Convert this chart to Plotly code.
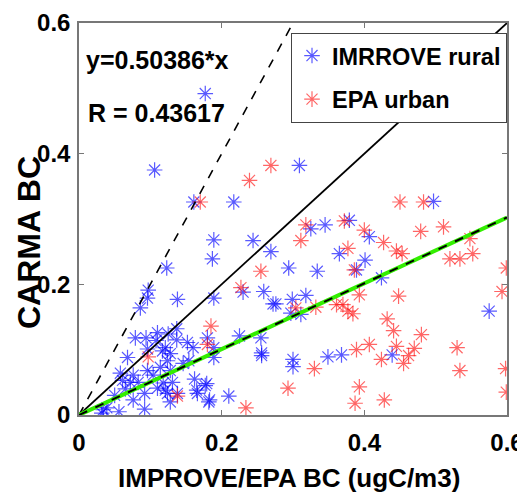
import plotly.graph_objects as go

# IMPROVE rural (blue) points
rural_x = [0.177, 0.106, 0.161, 0.217, 0.309, 0.497, 0.325, 0.345, 0.379, 0.407,
           0.365, 0.401, 0.294, 0.334, 0.389, 0.424, 0.299, 0.318, 0.297, 0.311,
           0.575, 0.439, 0.349, 0.368, 0.300, 0.300, 0.189, 0.187, 0.244, 0.269,
           0.123, 0.097, 0.096, 0.086, 0.138, 0.189, 0.230, 0.259, 0.272, 0.276,
           0.180, 0.189, 0.189, 0.225, 0.255, 0.256, 0.256, 0.137, 0.137, 0.079,
           0.094, 0.068, 0.108, 0.121, 0.128, 0.152, 0.160, 0.146, 0.058, 0.076,
           0.072, 0.083, 0.096, 0.104, 0.114, 0.124, 0.128, 0.118, 0.110, 0.131,
           0.124, 0.138, 0.128, 0.092, 0.076, 0.092, 0.056, 0.034, 0.032, 0.162,
           0.165, 0.179, 0.183, 0.210, 0.154, 0.096, 0.110, 0.125, 0.117, 0.061,
           0.039, 0.177, 0.166, 0.182, 0.121, 0.050, 0.065]
rural_y = [0.492, 0.375, 0.326, 0.326, 0.382, 0.327, 0.285, 0.291, 0.298, 0.273,
           0.247, 0.237, 0.225, 0.220, 0.222, 0.210, 0.177, 0.183, 0.156, 0.154,
           0.159, 0.092, 0.089, 0.092, 0.085, 0.074, 0.268, 0.239, 0.267, 0.250,
           0.225, 0.191, 0.179, 0.164, 0.177, 0.179, 0.188, 0.189, 0.170, 0.170,
           0.118, 0.103, 0.088, 0.121, 0.118, 0.095, 0.091, 0.132, 0.115, 0.118,
           0.118, 0.088, 0.114, 0.103, 0.094, 0.111, 0.103, 0.079, 0.064, 0.061,
           0.050, 0.050, 0.068, 0.061, 0.073, 0.083, 0.068, 0.049, 0.041, 0.050,
           0.033, 0.033, 0.020, 0.033, 0.023, 0.009, 0.005, 0.008, 0.003, 0.055,
           0.038, 0.048, 0.023, 0.029, 0.083, 0.101, 0.126, 0.124, 0.098, 0.053,
           0.011, 0.045, 0.033, 0.020, 0.038, 0.030, 0.040]

# EPA urban (red) points
urban_x = [0.170, 0.239, 0.269, 0.450, 0.483, 0.318, 0.311, 0.372, 0.400, 0.427,
           0.479, 0.511, 0.377, 0.445, 0.453, 0.548, 0.552, 0.520, 0.534, 0.599,
           0.386, 0.393, 0.448, 0.593, 0.304, 0.332, 0.361, 0.370, 0.377, 0.384,
           0.432, 0.441, 0.480, 0.445, 0.470, 0.462, 0.455, 0.424, 0.389, 0.407,
           0.330, 0.530, 0.534, 0.598, 0.293, 0.393, 0.387, 0.428, 0.599, 0.255,
           0.227, 0.185, 0.180, 0.097, 0.138, 0.234]
urban_y = [0.326, 0.359, 0.382, 0.326, 0.326, 0.291, 0.267, 0.297, 0.283, 0.264,
           0.281, 0.288, 0.255, 0.251, 0.247, 0.270, 0.247, 0.239, 0.239, 0.225,
           0.222, 0.184, 0.182, 0.189, 0.164, 0.165, 0.169, 0.169, 0.159, 0.155,
           0.147, 0.129, 0.123, 0.105, 0.102, 0.091, 0.079, 0.085, 0.100, 0.108,
           0.071, 0.103, 0.068, 0.071, 0.041, 0.043, 0.018, 0.023, 0.035, 0.220,
           0.195, 0.136, 0.108, 0.089, 0.029, 0.011]

slope = 0.50386
r_value = 0.43617
line_x = [0.0, 0.6]
x_ticks = [0, 0.2, 0.4, 0.6]
x_tick_text = ["0", "0.2", "0.4", "0.6"]

FONT = "Liberation Sans, Arial, sans-serif"

fig = go.Figure()
fig.add_trace(go.Scatter(
    x=rural_x, y=rural_y, mode="markers", name="IMRROVE rural", legendgroup="a",
    marker=dict(symbol="asterisk-open", size=13, color="rgba(0,0,255,0.65)",
                line=dict(color="rgba(0,0,255,0.65)", width=1.2))))
fig.add_trace(go.Scatter(
    x=urban_x, y=urban_y, mode="markers", name="EPA urban", legendgroup="b",
    marker=dict(symbol="asterisk-open", size=13, color="rgba(255,0,0,0.6)",
                line=dict(color="rgba(255,0,0,0.6)", width=1.2))))

# 2:1 dashed, 1:1 solid, regression line
fig.add_trace(go.Scatter(x=[0, 0.3], y=[0, 0.6], mode="lines", showlegend=False,
                         line=dict(color="black", width=1.6, dash="dash")))
fig.add_trace(go.Scatter(x=line_x, y=line_x, mode="lines", showlegend=False,
                         line=dict(color="black", width=1.8)))
fig.add_trace(go.Scatter(x=line_x, y=[slope * v for v in line_x], mode="lines",
                         showlegend=False, line=dict(color="#33ee00", width=4)))
fig.add_trace(go.Scatter(x=line_x, y=[slope * v for v in line_x], mode="lines",
                         showlegend=False,
                         line=dict(color="black", width=2, dash="dash")))

fig.add_annotation(x=0.012, y=0.905, xref="paper", yref="paper", xanchor="left",
                   yanchor="middle", showarrow=False,
                   text="<b>y=%.5f*x</b>" % slope,
                   font=dict(family=FONT, size=25, color="black"))
fig.add_annotation(x=0.016, y=0.77, xref="paper", yref="paper", xanchor="left",
                   yanchor="middle", showarrow=False,
                   text="<b>R = %.5f</b>" % r_value,
                   font=dict(family=FONT, size=25, color="black"))
# axis titles
fig.add_annotation(x=0.49, y=-0.16, xref="paper", yref="paper", xanchor="center",
                   yanchor="middle", showarrow=False,
                   text="<b>IMPROVE/EPA BC (ugC/m3)</b>",
                   font=dict(family=FONT, size=26, color="black"))
fig.add_annotation(x=-0.118, y=0.44, xref="paper", yref="paper", xanchor="center",
                   yanchor="middle", showarrow=False, textangle=-90,
                   text="<b>CARMA BC</b>",
                   font=dict(family=FONT, size=32, color="black"))

axis_common = dict(showgrid=False, zeroline=False, showline=True, mirror="ticks",
                   linecolor="#777777", linewidth=1.5, ticks="inside", ticklen=5,
                   tickcolor="#777777", automargin=False, ticklabeloverflow="allow",
                   tickfont=dict(family=FONT, size=24, color="black", weight="bold"))

fig.update_xaxes(range=[0, 0.6], tickvals=x_ticks, ticktext=x_tick_text,
                 ticklabelstandoff=5, **axis_common)
fig.update_yaxes(range=[0, 0.6], tickvals=x_ticks, ticktext=x_tick_text,
                 ticklabelstandoff=2, **axis_common)

fig.update_layout(
    width=517, height=492,
    margin=dict(l=71, r=18, t=15, b=85),
    plot_bgcolor="white", paper_bgcolor="white",
    legend=dict(x=1.0, y=0.975, xanchor="right", yanchor="top",
                bgcolor="white", bordercolor="#444444", borderwidth=1,
                font=dict(family=FONT, size=23.5, color="black", weight="bold"),
                itemwidth=30, tracegroupgap=10, traceorder="grouped"),
)

fig.write_html("out.html")
